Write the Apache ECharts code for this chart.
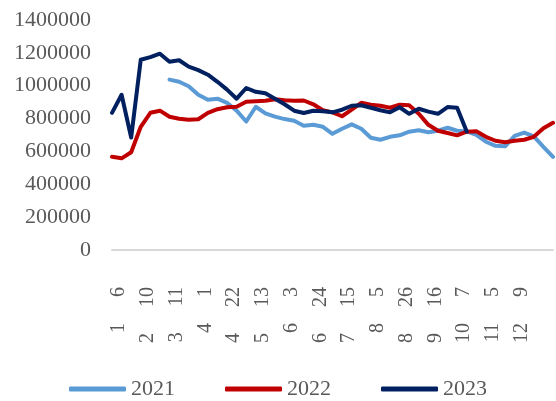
<!DOCTYPE html>
<html>
<head>
    <meta charset="utf-8">
    <title>2021-2023</title>
    <style>
        html, body { margin: 0; padding: 0; background: #fff; }
        #chart { width: 556px; height: 401px; }
    </style>
</head>
<body>
<div id="chart"></div>
<script src="https://cdn.jsdelivr.net/npm/echarts@6/dist/echarts.min.js"></script>
<script>
    // 日期(月-日)
    var categories = [
        '1-6', '1-13', '1-20', '2-10', '2-17', '2-24', '3-11', '3-18', '3-25', '4-1',
        '4-8', '4-15', '4-22', '4-29', '5-6', '5-13', '5-20', '5-27', '6-3', '6-10',
        '6-17', '6-24', '7-1', '7-8', '7-15', '7-22', '7-29', '8-5', '8-12', '8-19',
        '8-26', '9-2', '9-9', '9-16', '9-23', '9-30', '10-7', '10-14', '10-21', '11-5',
        '11-12', '11-19', '12-9', '12-16', '12-23', '12-30', '12-31'
    ];
    // 显示标签的日期
    var tickLabels = ['1-6', '2-10', '3-11', '4-1', '4-22', '5-13', '6-3', '6-24',
        '7-15', '8-5', '8-26', '9-16', '10-7', '11-5', '12-9'];
    var seriesNames = ['2021', '2022', '2023'];
    var data2021 = [
        null, null, null, null, null, null, 1037000, 1024000, 997000, 945000,
        915000, 921000, 896000, 848000, 782000, 872000, 832000, 812000, 797000, 787000,
        756000, 762000, 750000, 707000, 738000, 765000, 738000, 683000, 671000, 689000,
        698000, 720000, 729000, 717000, 726000, 744000, 726000, 722000, 701000, 659000,
        634000, 631000, 695000, 715000, 692000, 628000, 567000
    ];
    var data2022 = [
        567000, 558000, 595000, 750000, 835000, 848000, 811000, 799000, 793000, 796000,
        835000, 857000, 869000, 872000, 902000, 905000, 909000, 918000, 912000, 909000,
        910000, 887000, 851000, 838000, 814000, 854000, 896000, 884000, 878000, 866000,
        884000, 881000, 829000, 762000, 726000, 712000, 698000, 720000, 723000, 689000,
        665000, 656000, 665000, 671000, 689000, 741000, 774000
    ];
    var data2023 = [
        835000, 945000, 685000, 1158000, 1174000, 1195000, 1146000, 1155000, 1116000, 1095000,
        1067000, 1024000, 976000, 921000, 986000, 963000, 954000, 921000, 887000, 848000,
        834000, 848000, 845000, 838000, 854000, 878000, 881000, 866000, 851000, 838000,
        869000, 829000, 860000, 842000, 829000, 870000, 866000, 721000
    ];
    var colors = ['#5b9bd5', '#c00000', '#002060'];

    var myChart = echarts.init(document.getElementById('chart'));
    var fontName = 'Liberation Serif';
    var textColor = '#595959';

    function makeLine(name, data, color) {
        return {
            name: name,
            type: 'line',
            data: data,
            showSymbol: false,
            symbol: 'none',
            connectNulls: false,
            lineStyle: { width: 4, color: color, cap: 'round', join: 'round' },
            itemStyle: { color: color }
        };
    }

    var option = {
        animation: false,
        backgroundColor: '#fff',
        grid: { left: 112, right: 3, top: 20, bottom: 151 },
        legend: {
            data: seriesNames,
            left: 'center',
            top: 373,
            icon: 'roundRect',
            itemWidth: 57,
            itemHeight: 5,
            itemGap: 50,
            textStyle: { fontFamily: fontName, fontSize: 22, color: textColor }
        },
        xAxis: {
            type: 'category',
            data: categories,
            boundaryGap: false,
            axisLine: { lineStyle: { color: '#d9d9d9', width: 2 } },
            axisTick: { show: false },
            axisLabel: {
                interval: function (index, value) {
                    return tickLabels.indexOf(value) >= 0;
                },
                rotate: 90,
                margin: 37,
                padding: [14, 0, 0, 0],
                fontFamily: fontName,
                fontSize: 20,
                color: textColor,
                formatter: function (v) {
                    var p = v.split('-');
                    return '{n|' + p[0] + '}{g| }{n|' + p[1] + '}';
                },
                rich: {
                    n: { fontFamily: fontName, fontSize: 20, color: textColor },
                    g: { width: 26, fontFamily: fontName, fontSize: 20 }
                }
            }
        },
        yAxis: {
            type: 'value',
            min: 0,
            max: 1400000,
            interval: 200000,
            axisLine: { show: false },
            axisTick: { show: false },
            splitLine: { show: false },
            axisLabel: {
                margin: 21,
                fontFamily: fontName,
                fontSize: 22,
                color: textColor,
                formatter: function (v) { return String(v); }
            }
        },
        series: [
            makeLine(seriesNames[0], data2021, colors[0]),
            makeLine(seriesNames[1], data2022, colors[1]),
            makeLine(seriesNames[2], data2023, colors[2])
        ]
    };
    myChart.setOption(option);
</script>
</body>
</html>
